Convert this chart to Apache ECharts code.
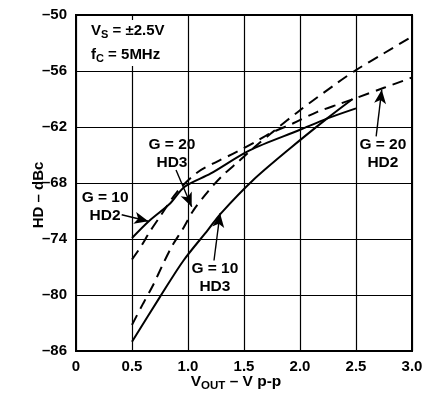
<!DOCTYPE html>
<html><head><meta charset="utf-8">
<script src="https://cdn.jsdelivr.net/npm/echarts@6/dist/echarts.min.js"></script>
<style>html,body{margin:0;padding:0;background:#fff}#c{width:434px;height:399px}</style>
</head><body><div id="c"></div>
<script>
// x tick values
const xTicks = [0, 0.5, 1.0, 1.5, 2.0, 2.5, 3.0];
const yTicks = [-86, -80, -74, -68, -62, -56, -50];

// G = 10, HD2 (solid)
const g10hd2X = [0.5, 0.65, 0.84, 0.97, 1.2, 1.55, 2.0, 2.24, 2.5];
const g10hd2Y = [-73.9, -72.1, -70.2, -68.4, -67.0, -64.5, -62.3, -61.1, -60.0];
// G = 10, HD3 (solid)
const g10hd3X = [0.5, 0.75, 0.96, 1.18, 1.29, 1.58, 1.91, 2.24, 2.47];
const g10hd3Y = [-85.0, -80.2, -76.3, -73.0, -71.3, -67.7, -64.3, -61.1, -59.0];
// G = 20, HD2 (dashed)
const g20hd2X = [0.5, 0.58, 0.66, 0.75, 0.9, 1.08, 1.26, 1.43, 1.6, 1.73, 1.94, 2.15, 2.36, 2.5, 2.75, 3.0];
const g20hd2Y = [-76.2, -74.8, -73.2, -71.6, -69.0, -66.9, -65.7, -64.7, -63.6, -62.7, -61.6, -60.4, -59.5, -58.9, -57.8, -56.7];
// G = 20, HD3 (dashed)
const g20hd3X = [0.5, 0.6, 0.69, 0.78, 0.86, 0.955, 1.05, 1.18, 1.3, 1.45, 1.6, 1.75, 2.0, 2.33, 2.5, 2.75, 3.0];
const g20hd3Y = [-83.2, -80.9, -78.9, -76.6, -74.7, -72.9, -70.9, -68.9, -67.3, -65.7, -64.1, -62.6, -60.2, -57.3, -55.9, -54.1, -52.3];

// annotation labels (data coords of label center) and arrows [x1,y1,x2,y2]
const annLabels = [
  {text: ['G = 20', 'HD3'], at: [0.857, -64.9]},
  {text: ['G = 10', 'HD2'], at: [0.26, -70.5]},
  {text: ['G = 10', 'HD3'], at: [1.24, -78.2]},
  {text: ['G = 20', 'HD2'], at: [2.74, -64.9]}
];
const annArrows = [
  [0.893, -66.6, 1.033, -70.55],
  [0.408, -71.4, 0.646, -72.1],
  [1.232, -76.3, 1.286, -71.25],
  [2.68, -63.0, 2.73, -58.0]
];

const FONT = 'Liberation Sans, Arial, Helvetica, sans-serif';
const zip = (xs, ys) => xs.map((x, i) => [x, ys[i]]);

const chart = echarts.init(document.getElementById('c'), null, {renderer: 'canvas'});
const baseLine = (name, xs, ys, dashed) => ({
  name, type: 'line', data: zip(xs, ys), symbol: 'none', smooth: 0.3,
  lineStyle: {color: '#000', width: 2, type: dashed ? [11, 7] : 'solid'},
  animation: false, z: 3
});

const series = [
  baseLine('G=10 HD2', g10hd2X, g10hd2Y, false),
  baseLine('G=10 HD3', g10hd3X, g10hd3Y, false),
  baseLine('G=20 HD2', g20hd2X, g20hd2Y, true),
  baseLine('G=20 HD3', g20hd3X, g20hd3Y, true)
];
series[0].markLine = {
  silent: true, animation: false, symbol: ['none', 'arrow'], symbolSize: [9, 14],
  lineStyle: {color: '#000', width: 1.4, type: 'solid'}, label: {show: false},
  data: annArrows.map(a => [{coord: [a[0], a[1]]}, {coord: [a[2], a[3]]}])
};

chart.setOption({
  animation: false,
  backgroundColor: '#fff',
  grid: {left: 76, right: 22, top: 15, bottom: 48, show: true, borderColor: '#000', borderWidth: 2, backgroundColor: 'transparent'},
  xAxis: {
    type: 'value', min: xTicks[0], max: xTicks[xTicks.length - 1], interval: 0.5,
    axisLine: {show: true, lineStyle: {color: '#000', width: 2}},
    axisTick: {show: false},
    splitLine: {show: true, lineStyle: {color: '#000', width: 1.2}},
    axisLabel: {color: '#000', fontFamily: FONT, fontWeight: 'bold', fontSize: 15, margin: 8,
      formatter: v => v === 0 ? '0' : v.toFixed(1)}
  },
  yAxis: {
    type: 'value', min: yTicks[0], max: yTicks[yTicks.length - 1], interval: 6,
    axisLine: {show: true, lineStyle: {color: '#000', width: 2}},
    axisTick: {show: false},
    splitLine: {show: true, lineStyle: {color: '#000', width: 1.2}},
    axisLabel: {color: '#000', fontFamily: FONT, fontWeight: 'bold', fontSize: 15, margin: 9,
      formatter: v => String(v).replace('-', '\u2013')}
  },
  series
});

const px = (x, y) => chart.convertToPixel({gridIndex: 0}, [x, y]);
const graphics = [];
annLabels.forEach(l => {
  const p = px(l.at[0], l.at[1]);
  graphics.push({type: 'text', x: p[0], y: p[1], z: 10,
    style: {text: l.text.join('\n'), fill: '#000', font: 'bold 15.5px ' + FONT,
      align: 'center', verticalAlign: 'middle', lineHeight: 18}});
});
// condition box
graphics.push({type: 'rect', shape: {x: 82, y: 20, width: 96, height: 46}, style: {fill: '#fff'}, z: 5});
const rich = {
  a: {fontFamily: FONT, fontWeight: 'bold', fontSize: 15, fill: '#000', lineHeight: 18},
  s: {fontFamily: FONT, fontWeight: 'bold', fontSize: 11, fill: '#000', lineHeight: 18, padding: [7, 0, 0, 0]}
};
graphics.push({type: 'text', x: 91, y: 31, z: 11, style: {text: '{a|V}{s|S}{a| = \u00b12.5V}', rich, verticalAlign: 'middle'}});
graphics.push({type: 'text', x: 91, y: 55, z: 11, style: {text: '{a|f}{s|C}{a| = 5MHz}', rich, verticalAlign: 'middle'}});
// axis titles
const rich2 = {
  a: {fontFamily: FONT, fontWeight: 'bold', fontSize: 15.5, fill: '#000', lineHeight: 20},
  s: {fontFamily: FONT, fontWeight: 'bold', fontSize: 11.5, fill: '#000', lineHeight: 20, padding: [8, 0, 0, 0]}
};
graphics.push({type: 'text', x: 236, y: 382, z: 11, style: {text: '{a|V}{s|OUT}{a| \u2013 V p-p}', rich: rich2, align: 'center', verticalAlign: 'middle'}});
graphics.push({type: 'text', x: 39, y: 195, rotation: Math.PI / 2, z: 11,
  style: {text: 'HD \u2013 dBc', font: 'bold 15px ' + FONT, fill: '#000', align: 'center', verticalAlign: 'middle'}});
chart.setOption({graphic: graphics});
</script></body></html>
